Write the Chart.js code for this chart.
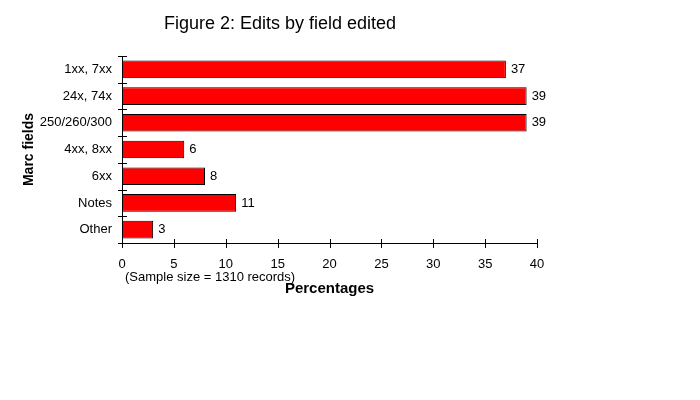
<!DOCTYPE html>
<html>
<head>
<meta charset="utf-8">
<script src="https://cdn.jsdelivr.net/npm/chart.js@4/dist/chart.umd.min.js"></script>
<style>
  html, body { margin: 0; padding: 0; background: #fff; }
  canvas { display: block; }
</style>
</head>
<body>
<canvas id="chart" width="700" height="400"></canvas>
<script>
const categories = ['1xx, 7xx', '24x, 74x', '250/260/300', '4xx, 8xx', '6xx', 'Notes', 'Other']
const percentages = [37, 39, 39, 6, 8, 11, 3]
const xTicks = [0, 5, 10, 15, 20, 25, 30, 35, 40]

const chartTitle = 'Figure 2: Edits by field edited'
const xTitle = 'Percentages'
const yTitle = 'Marc fields'
const note = '(Sample size = 1310 records)'

const font = '"Liberation Sans", Arial, sans-serif'

// axis ticks cross the axis line, plus labels and titles
const extras = {
    id: 'extras',
    afterDraw(chart) {
        const ctx = chart.ctx
        const area = chart.chartArea
        const x = chart.scales.x
        ctx.save()
        ctx.strokeStyle = '#000'
        ctx.lineWidth = 1
        ctx.beginPath()
        xTicks.forEach(v => {
            const px = Math.round(x.getPixelForValue(v)) + 0.5
            ctx.moveTo(px, area.bottom - 4)
            ctx.lineTo(px, area.bottom + 5)
        })
        const step = (area.bottom - area.top) / categories.length
        for (let i = 0; i <= categories.length; i++) {
            const py = Math.round(area.top + i * step) + 0.5
            ctx.moveTo(area.left - 4, py)
            ctx.lineTo(area.left + 5, py)
        }
        ctx.stroke()

        // value labels
        ctx.fillStyle = '#000'
        ctx.font = '13px ' + font
        ctx.textAlign = 'left'
        ctx.textBaseline = 'middle'
        chart.getDatasetMeta(0).data.forEach((bar, i) => {
            ctx.fillText(String(percentages[i]), bar.x + 5, bar.y)
        })

        // titles
        ctx.textAlign = 'center'
        ctx.font = '18px ' + font
        ctx.fillText(chartTitle, 280, 24)
        ctx.font = 'bold 15px ' + font
        ctx.fillText(xTitle, (area.left + area.right) / 2, 289)
        ctx.font = '13px ' + font
        ctx.textAlign = 'left'
        ctx.fillText(note, 125, 277)

        ctx.translate(29, (area.top + area.bottom) / 2)
        ctx.rotate(-Math.PI / 2)
        ctx.textAlign = 'center'
        ctx.font = 'bold 14px ' + font
        ctx.fillText(yTitle, 0, 0)
        ctx.restore()
    }
}

new Chart(document.getElementById('chart'), {
    type: 'bar',
    data: {
        labels: categories,
        datasets: [{
            data: percentages,
            backgroundColor: '#ff0000',
            borderColor: '#000000',
            borderWidth: 1,
            borderSkipped: false,
            categoryPercentage: 1,
            barPercentage: 0.66
        }]
    },
    options: {
        indexAxis: 'y',
        responsive: false,
        animation: false,
        layout: {
            padding: { top: 56, left: 0, right: 163, bottom: 0 }
        },
        scales: {
            x: {
                min: 0,
                max: 40,
                afterFit(scale) { scale.height = 157 },
                afterBuildTicks(scale) { scale.ticks = xTicks.map(v => ({ value: v })) },
                grid: { display: false },
                border: { display: true, color: '#000', width: 1 },
                ticks: {
                    color: '#000',
                    font: { family: font, size: 13 },
                    padding: 6
                }
            },
            y: {
                afterFit(scale) { scale.width = 122 },
                grid: { display: false },
                border: { display: true, color: '#000', width: 1 },
                ticks: {
                    color: '#000',
                    font: { family: font, size: 13 },
                    padding: 2
                }
            }
        },
        plugins: {
            legend: { display: false },
            title: { display: false },
            tooltip: { enabled: false }
        }
    },
    plugins: [extras]
})
</script>
</body>
</html>
